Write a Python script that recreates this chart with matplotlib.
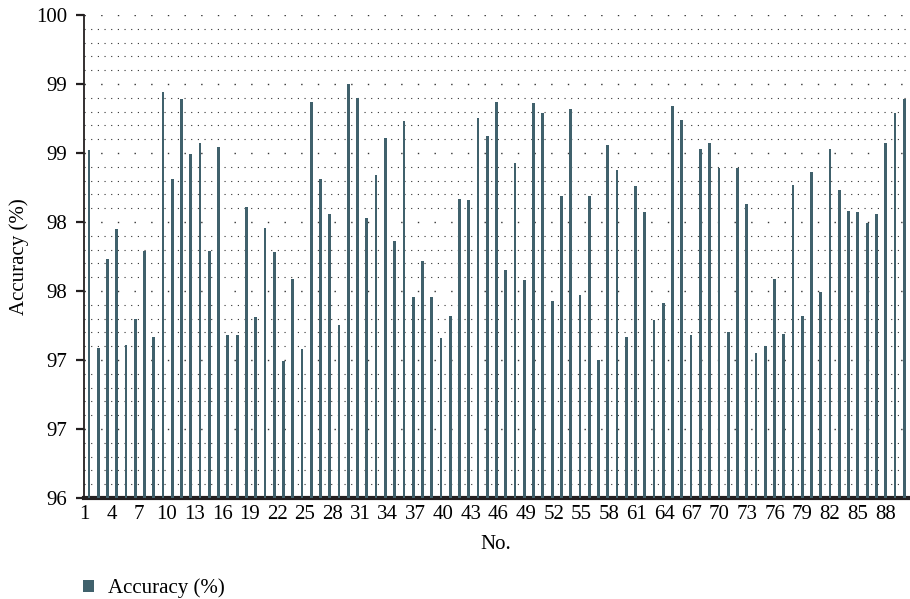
import numpy as np
import matplotlib.pyplot as plt
from matplotlib.ticker import FixedLocator, MultipleLocator, FuncFormatter

# accuracy per sample, read in order
sample_no = np.arange(1, 90)
accuracy = [
    98.52, 97.09, 97.73, 97.95, 97.11, 97.30, 97.79, 97.17, 98.94, 98.31,
    98.89, 98.49, 98.57, 97.79, 98.54, 97.18, 97.18, 98.11, 97.31, 97.96,
    97.78, 96.99, 97.59, 97.08, 98.87, 98.31, 98.06, 97.25, 99.00, 98.90,
    98.03, 98.34, 98.61, 97.86, 98.73, 97.46, 97.72, 97.46, 97.16, 97.32,
    98.17, 98.16, 98.75, 98.62, 98.87, 97.65, 98.43, 97.58, 98.86, 98.79,
    97.43, 98.19, 98.82, 97.47, 98.19, 97.00, 98.56, 98.38, 97.17, 98.26,
    98.07, 97.29, 97.41, 98.84, 98.74, 97.18, 98.53, 98.57, 98.39, 97.20,
    98.39, 98.13, 97.05, 97.10, 97.59, 97.19, 98.27, 97.32, 98.36, 97.49,
    98.53, 98.23, 98.08, 98.07, 97.99, 98.06, 98.57, 98.79, 98.89,
]
y_ticks = np.arange(96, 99.51, 0.5)
x_labels = np.arange(1, 90, 3)

bar_color = '#40616c'
plt.rcParams['font.family'] = ['Liberation Serif', 'DejaVu Serif']

fig = plt.figure(figsize=(9.10, 5.99), dpi=100)
ax = fig.add_axes([0.0923, 0.1686, 0.9057, 0.8064])

bars = ax.bar(sample_no, np.array(accuracy) - 96, bottom=96, width=0.3,
              color=bar_color, label='Accuracy (%)', zorder=3)

ax.set_ylim(96, 99.5)
ax.set_xlim(0.52, 89.43)

ax.yaxis.set_major_locator(FixedLocator(y_ticks))
ax.yaxis.set_minor_locator(MultipleLocator(0.1))
# half values round up
ax.yaxis.set_major_formatter(FuncFormatter(lambda v, p: str(int(np.floor(v + 0.5)))))

# number labels run on a slightly tighter scale than the bars, starting at the spine
ax.set_xticks(0.47 + (x_labels - 1) * 0.994, [str(n) for n in x_labels])

ax.grid(axis='y', which='minor', color='#333333', linestyle=(0, (1, 5)), linewidth=0.8, zorder=0)
ax.grid(axis='y', which='major', color='#333333', linestyle=(0, (1, 11)), linewidth=1.0, zorder=0)

for side in ['top', 'right']:
    ax.spines[side].set_visible(False)
ax.spines['left'].set_linewidth(1.3)
ax.spines['left'].set_color('#231f20')
ax.spines['bottom'].set_linewidth(3)
ax.spines['bottom'].set_color('#231f20')

ax.tick_params(axis='y', which='major', length=6, width=1.6, color='#231f20',
               labelsize=15, pad=6)
ax.tick_params(axis='y', which='minor', length=0)
ax.tick_params(axis='x', length=0, labelsize=15, pad=5)

ax.set_ylabel('Accuracy (%)', fontsize=15, labelpad=5)
ax.set_xlabel('No.', fontsize=15, labelpad=8)

fig.legend(handles=[bars], loc='lower left', bbox_to_anchor=(0.071, -0.03),
           frameon=False, fontsize=15, handlelength=0.5, handleheight=0.5,
           handletextpad=0.7)

fig.savefig('out.png', dpi=100)
